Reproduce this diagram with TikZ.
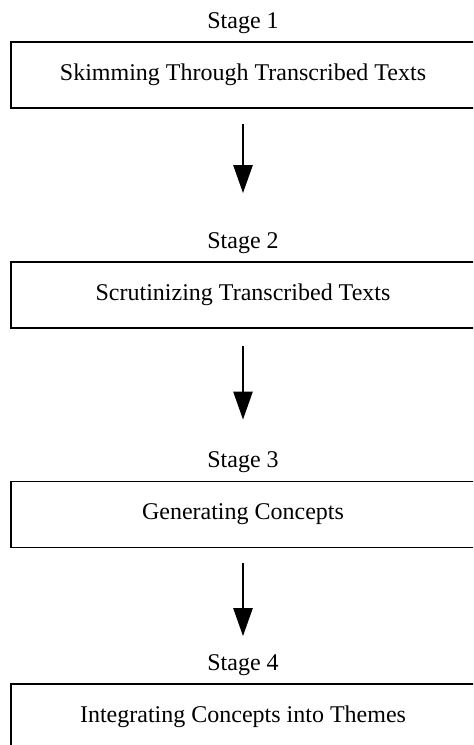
\documentclass[tikz,border=0pt]{standalone}
\usepackage{fontspec}
\setmainfont{Liberation Serif}
\usetikzlibrary{arrows.meta,positioning}
\begin{document}
\begin{tikzpicture}[x=0.5pt,y=-0.5pt,font=\fontsize{12}{14}\selectfont,
    box/.style={draw,line width=0.8pt,minimum width=232pt,minimum height=33pt,inner sep=0pt},
    lab/.style={inner sep=0pt,anchor=base},
    flow/.style={-{Triangle[length=14pt,width=9.5pt]},line width=1.3pt}]
    \useasboundingbox (0,0) rectangle (473,745);
    \clip (0,0) rectangle (473,745);
    % stages
    \node[box] (box1) at (243,75) {Skimming Through Transcribed Texts};
    \node[box] (box2) at (243,295) {Scrutinizing Transcribed Texts};
    \node[box] (box3) at (243,514.5) {Generating Concepts};
    \node[box] (box4) at (243,717) {Integrating Concepts into Themes};
    \node[lab] (lab1) at ([yshift=6.5pt]box1.north) {Stage 1};
    \node[lab] (lab2) at ([yshift=6.5pt]box2.north) {Stage 2};
    \node[lab] (lab3) at ([yshift=6.5pt]box3.north) {Stage 3};
    \node[lab] (lab4) at ([yshift=6.5pt]box4.north) {Stage 4};
    % arrows
    \draw[flow,shorten <=7.5pt,shorten >=19.4pt] (box1.south) -- (lab2.north);
    \draw[flow,shorten <=8.5pt,shorten >=15.9pt] (box2.south) -- (lab3.north);
    \draw[flow,shorten <=7.5pt,shorten >=8.9pt] (box3.south) -- (lab4.north);
\end{tikzpicture}
\end{document}
